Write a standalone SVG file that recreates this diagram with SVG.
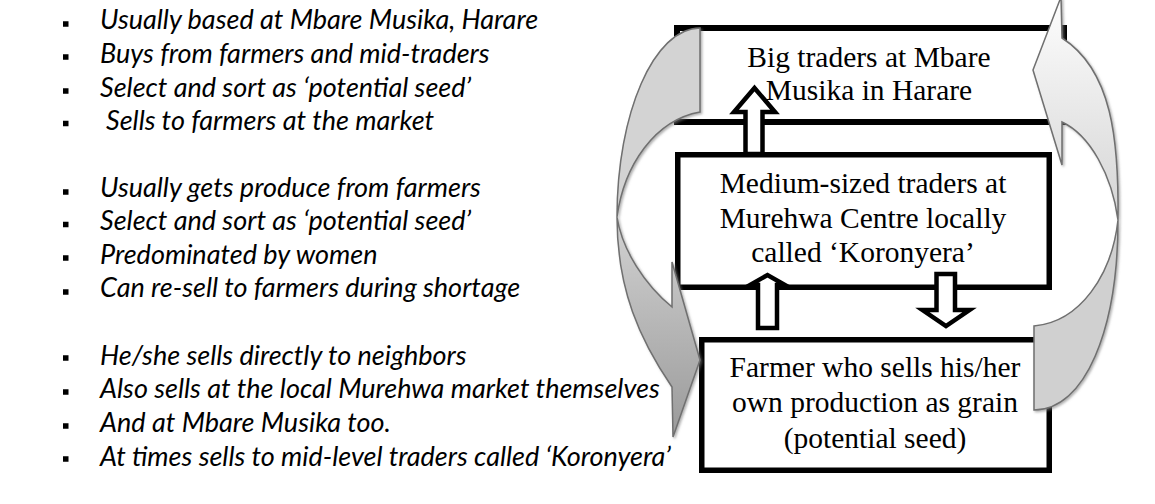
<svg xmlns="http://www.w3.org/2000/svg" width="1155" height="504" viewBox="0 0 1155 504">
  <style>
    .note { font-family: Lato, "Open Sans", sans-serif; font-style: italic; font-size: 27px; fill: #000; }
    .bullet { fill: #000; }
    .box { fill: #fff; stroke: #000; stroke-width: 5.5; }
    .label { font-family: "Liberation Serif", "Times New Roman", serif; font-size: 29.5px; fill: #000; text-anchor: middle; }
    .block { fill: #fff; stroke: #000; stroke-width: 4.5; stroke-linejoin: miter; }
    .curve { stroke: #6f6f6f; stroke-width: 1.5; stroke-linejoin: miter; }
  </style>
  <defs>
    <linearGradient id="left-front" gradientUnits="userSpaceOnUse" x1="0" y1="217" x2="0" y2="440">
      <stop offset="0" stop-color="#d2d2d2"/>
      <stop offset="1" stop-color="#999999"/>
    </linearGradient>
    <linearGradient id="right-front" gradientUnits="userSpaceOnUse" x1="0" y1="0" x2="0" y2="220">
      <stop offset="0" stop-color="#fdfdfd"/>
      <stop offset="1" stop-color="#d4d4d4"/>
    </linearGradient>
    <filter id="soft-shadow" x="-20%" y="-20%" width="140%" height="140%">
      <feDropShadow dx="1.5" dy="1.5" stdDeviation="1" flood-color="#7a7a7a" flood-opacity="0.6"/>
    </filter>
  </defs>

  <rect width="1155" height="504" fill="#fff"/>

  <!-- notes: big traders -->
  <g id="notes-big-traders">
    <rect class="bullet" x="63" y="21.25" width="5.5" height="5.5"/>
    <rect class="bullet" x="63" y="54.25" width="5.5" height="5.5"/>
    <rect class="bullet" x="63" y="88.25" width="5.5" height="5.5"/>
    <rect class="bullet" x="63" y="120.75" width="5.5" height="5.5"/>
    <text class="note" x="100" y="29">Usually based at Mbare Musika, Harare</text>
    <text class="note" x="100" y="62.5">Buys from farmers and mid-traders</text>
    <text class="note" x="100" y="96.5">Select and sort as ‘potential seed’</text>
    <text class="note" x="106" y="129.5">Sells to farmers at the market</text>
  </g>

  <!-- notes: medium-sized traders -->
  <g id="notes-medium-traders">
    <rect class="bullet" x="63" y="189.25" width="5.5" height="5.5"/>
    <rect class="bullet" x="63" y="221.75" width="5.5" height="5.5"/>
    <rect class="bullet" x="63" y="255.25" width="5.5" height="5.5"/>
    <rect class="bullet" x="63" y="289.25" width="5.5" height="5.5"/>
    <text class="note" x="100" y="197">Usually gets produce from farmers</text>
    <text class="note" x="100" y="230">Select and sort as ‘potential seed’</text>
    <text class="note" x="100" y="263.5">Predominated by women</text>
    <text class="note" x="100" y="297">Can re-sell to farmers during shortage</text>
  </g>

  <!-- notes: farmer -->
  <g id="notes-farmer">
    <rect class="bullet" x="63" y="355.25" width="5.5" height="5.5"/>
    <rect class="bullet" x="63" y="389.25" width="5.5" height="5.5"/>
    <rect class="bullet" x="63" y="423.25" width="5.5" height="5.5"/>
    <rect class="bullet" x="63" y="456.25" width="5.5" height="5.5"/>
    <text class="note" x="100" y="364.5">He/she sells directly to neighbors</text>
    <text class="note" x="100" y="398">Also sells at the local Murehwa market themselves</text>
    <text class="note" x="100" y="432">And at Mbare Musika too.</text>
    <text class="note" x="100" y="465.5">At times sells to mid-level traders called ‘Koronyera’</text>
  </g>

  <!-- market chain nodes -->
  <g id="node-big-traders">
    <rect class="box" x="677" y="28" width="387" height="94" style="stroke-width:6"/>
    <text class="label" x="869" y="67">Big traders at Mbare</text>
    <text class="label" x="869" y="100">Musika in Harare</text>
  </g>

  <g id="node-medium-traders">
    <rect class="box" x="677.75" y="154.75" width="371.5" height="132.5"/>
    <text class="label" x="863" y="193">Medium-sized traders at</text>
    <text class="label" x="863" y="228">Murehwa Centre locally</text>
    <text class="label" x="863" y="262">called ‘Koronyera’</text>
  </g>

  <g id="node-farmer">
    <rect class="box" x="701.75" y="339.75" width="347.5" height="130.5"/>
    <text class="label" x="875" y="377">Farmer who sells his/her</text>
    <text class="label" x="875" y="412">own production as grain</text>
    <text class="label" x="875" y="448">(potential seed)</text>
  </g>

  <!-- flows between levels -->
  <g id="connectors">
    <!-- medium traders up to big traders -->
    <path class="block" d="M745.5,154 L745.5,112 L734,112 L754.5,88 L775,112 L762.5,112 L762.5,154 Z"/>
    <!-- farmer up to medium traders -->
    <path class="block" d="M758,328 L758,285 L750,285 L767.5,275 L785,285 L777,285 L777,328 Z"/>
    <!-- medium traders down to farmer -->
    <path class="block" d="M936.5,274 L955,274 L955,310 L969.5,310 L946,326 L922.5,310 L936.5,310 Z"/>

    <!-- curved flow: big traders back down to farmer -->
    <g id="curve-big-to-farmer" filter="url(#soft-shadow)">
      <path class="curve" fill="#d3d3d3" d="M700,28 C654,28 617,113 617,217 C624,165 655,120 700,112 Z"/>
      <path class="curve" fill="url(#left-front)" d="M617,217 C617,290 640,340 672,387 L673,437 L700,360 L672,262 L672,307 C645,285 622,250 617,217 Z"/>
    </g>

    <!-- curved flow: farmer up to big traders -->
    <g id="curve-farmer-to-big" filter="url(#soft-shadow)">
      <path class="curve" fill="#d0d0d0" d="M1034,410 C1085,410 1118,330 1118,220 C1112,275 1080,322 1034,326 Z"/>
      <path class="curve" fill="url(#right-front)" d="M1118,220 C1119,140 1112,70 1062,38 L1061,-3 L1033,70 L1062,165 L1062,122 C1090,135 1112,175 1118,220 Z"/>
    </g>
  </g>
</svg>
